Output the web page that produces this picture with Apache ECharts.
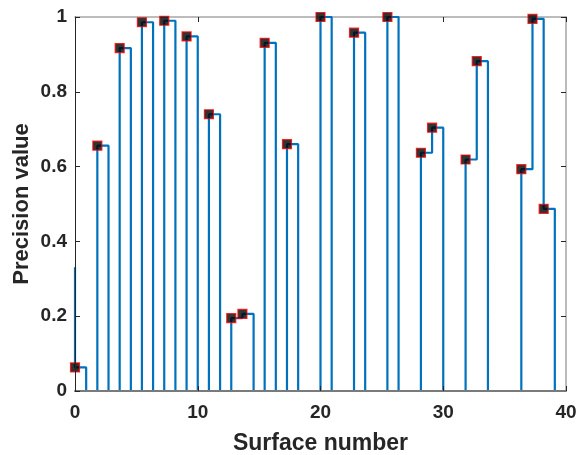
<!DOCTYPE html>
<html>
<head>
<meta charset="utf-8">
<script src="https://cdn.jsdelivr.net/npm/echarts@6/dist/echarts.min.js"></script>
<style>
html,body{margin:0;padding:0;background:#fff;}
#chart{width:576px;height:455px;}
</style>
</head>
<body>
<div id="chart"></div>
<script>
// Stair-step path: surface positions and precision values (0 = gap between surfaces)
const stepX = [0, 0, 0.91, 1.82, 2.73, 3.64, 4.55, 5.45, 6.36, 7.27, 8.18, 9.09, 10.00, 10.91, 11.82, 12.73, 13.64, 14.55, 15.45, 16.36, 17.27, 18.18, 19.09, 20.00, 20.91, 21.82, 22.73, 23.64, 24.55, 25.45, 26.36, 27.27, 28.18, 29.09, 30.00, 30.91, 31.82, 32.73, 33.64, 34.55, 35.45, 36.36, 37.27, 38.18, 39.09, 40.00];
const stepY = [0.331, 0.063, 0, 0.656, 0, 0.917, 0, 0.986, 0, 0.990, 0, 0.948, 0, 0.740, 0, 0.195, 0.206, 0, 0.931, 0, 0.660, 0, 0, 1.0, 0, 0, 0.958, 0, 0, 1.0, 0, 0, 0.637, 0.704, 0, 0, 0.619, 0.882, 0, 0, 0, 0.593, 0.995, 0.487, 0, 0];
const xTicks = [0, 10, 20, 30, 40];
const yTicks = [0, 0.2, 0.4, 0.6, 0.8, 1];
const xTitle = 'Surface number';
const yTitle = 'Precision value';

const linePts = stepX.map((x, i) => [x, stepY[i]]);
const markerPts = linePts.filter((p, i) => i > 0 && p[1] > 0);

const FONT = '"Liberation Sans", Arial, Helvetica, sans-serif';
const TXT = '#262626';

const chart = echarts.init(document.getElementById('chart'), null, {renderer: 'canvas'});
chart.setOption({
  animation: false,
  backgroundColor: '#ffffff',
  grid: {left: 75, right: 10, top: 17, bottom: 64, containLabel: false, outerBoundsMode: 'none'},
  xAxis: [{
    type: 'value', min: xTicks[0], max: xTicks[xTicks.length - 1], interval: 10,
    position: 'bottom',
    z: 10,
    name: xTitle, nameLocation: 'middle', nameGap: 41,
    nameTextStyle: {fontFamily: FONT, fontWeight: 'bold', fontSize: 23, color: TXT},
    axisLine: {show: true, onZero: false, lineStyle: {color: '#7a7a7a', width: 2}},
    axisTick: {show: true, inside: true, length: 5, lineStyle: {color: TXT}},
    axisLabel: {fontFamily: FONT, fontWeight: 'bold', fontSize: 19, color: TXT, margin: 12},
    splitLine: {show: false}
  }, {
    type: 'value', min: xTicks[0], max: xTicks[xTicks.length - 1], interval: 10,
    position: 'top',
    axisLine: {show: true, onZero: false, lineStyle: {color: '#a6a6a6', width: 1.5}},
    axisTick: {show: true, inside: true, length: 5, lineStyle: {color: TXT}},
    axisLabel: {show: false},
    splitLine: {show: false}
  }],
  yAxis: [{
    type: 'value', min: yTicks[0], max: yTicks[yTicks.length - 1], interval: 0.2,
    position: 'left',
    z: 10,
    name: yTitle, nameLocation: 'middle', nameGap: 42, nameRotate: 90,
    nameMoveOverlap: false,
    nameTextStyle: {fontFamily: FONT, fontWeight: 'bold', fontSize: 22, color: TXT},
    axisLine: {show: true, onZero: false, lineStyle: {color: TXT, width: 1}},
    axisTick: {show: true, inside: true, length: 5, lineStyle: {color: TXT}},
    axisLabel: {fontFamily: FONT, fontWeight: 'bold', fontSize: 19, color: TXT, margin: 8},
    splitLine: {show: false}
  }, {
    type: 'value', min: yTicks[0], max: yTicks[yTicks.length - 1], interval: 0.2,
    position: 'right',
    axisLine: {show: true, onZero: false, lineStyle: {color: '#a6a6a6', width: 1.5}},
    axisTick: {show: true, inside: true, length: 5, lineStyle: {color: TXT}},
    axisLabel: {show: false},
    splitLine: {show: false}
  }],
  series: [{
    type: 'line',
    xAxisIndex: 0, yAxisIndex: 0,
    data: linePts,
    step: 'end',
    showSymbol: false,
    symbol: 'none',
    lineStyle: {color: '#0072BD', width: 2.2},
    clip: true,
    z: 2
  }, {
    type: 'scatter',
    xAxisIndex: 0, yAxisIndex: 0,
    data: markerPts,
    symbol: 'rect',
    symbolSize: 9,
    itemStyle: {color: '#000000', borderColor: '#ff0000', borderWidth: 1.2},
    clip: false,
    z: 3
  }]
});
</script>
</body>
</html>
